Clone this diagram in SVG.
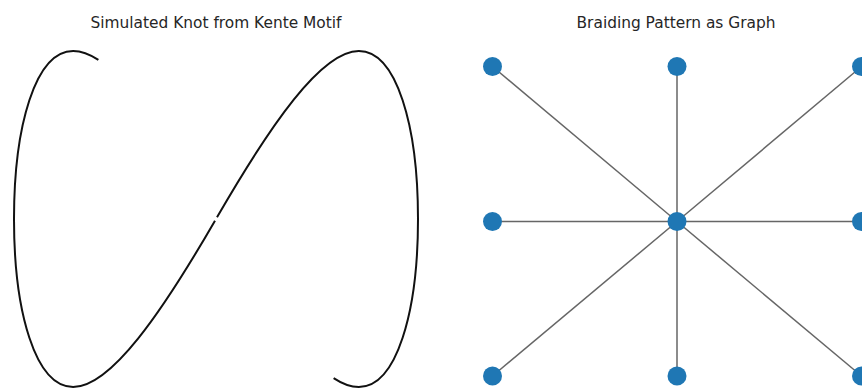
<svg xmlns="http://www.w3.org/2000/svg" width="862" height="388" viewBox="0 0 862 388">
<style>
.title{font-family:"DejaVu Sans","Liberation Sans",sans-serif;font-size:15.4px;fill:#262626;text-anchor:middle}
.knot{fill:none;stroke:#111;stroke-width:2;stroke-linecap:butt}
.edge{stroke:#666;stroke-width:1.5}
.node{fill:#1f77b4}
</style>
<rect width="862" height="388" fill="#fff"/>
<text class="title" x="216" y="28">Simulated Knot from Kente Motif</text>
<text class="title" x="676" y="28">Braiding Pattern as Graph</text>
<g id="knot">
<path class="knot" d="M98.38,59.94 C89.42,54.04 80.95,51 73.16,51 C35.28,51 14,126.22 14,219 C14,311.78 35.28,387 73.16,387 C110.80,387 161.77,312.76 214.99,220.68"/>
<path class="knot" d="M217.01,217.32 C270.23,125.24 321.20,51 358.84,51 C396.72,51 418,126.22 418,219 C418,311.78 396.72,387 358.84,387 C351.05,387 342.58,383.96 333.62,378.06"/>
</g>
<g id="edges">
<line class="edge" x1="677" y1="221.5" x2="492.5" y2="66.5"/>
<line class="edge" x1="677" y1="221.5" x2="677" y2="66.5"/>
<line class="edge" x1="677" y1="221.5" x2="861.5" y2="66.5"/>
<line class="edge" x1="677" y1="221.5" x2="492.5" y2="221.5"/>
<line class="edge" x1="677" y1="221.5" x2="861.5" y2="221.5"/>
<line class="edge" x1="677" y1="221.5" x2="492.5" y2="376"/>
<line class="edge" x1="677" y1="221.5" x2="677" y2="376"/>
<line class="edge" x1="677" y1="221.5" x2="861.5" y2="376"/>
</g>
<g id="n0"><circle class="node" cx="492.5" cy="66.5" r="9.5"/></g>
<g id="n1"><circle class="node" cx="677" cy="66.5" r="9.5"/></g>
<g id="n2"><circle class="node" cx="861.5" cy="66.5" r="9.5"/></g>
<g id="n3"><circle class="node" cx="492.5" cy="221.5" r="9.5"/></g>
<g id="n4"><circle class="node" cx="677" cy="221.5" r="9.5"/></g>
<g id="n5"><circle class="node" cx="861.5" cy="221.5" r="9.5"/></g>
<g id="n6"><circle class="node" cx="492.5" cy="376" r="9.5"/></g>
<g id="n7"><circle class="node" cx="677" cy="376" r="9.5"/></g>
<g id="n8"><circle class="node" cx="861.5" cy="376" r="9.5"/></g>
</svg>
